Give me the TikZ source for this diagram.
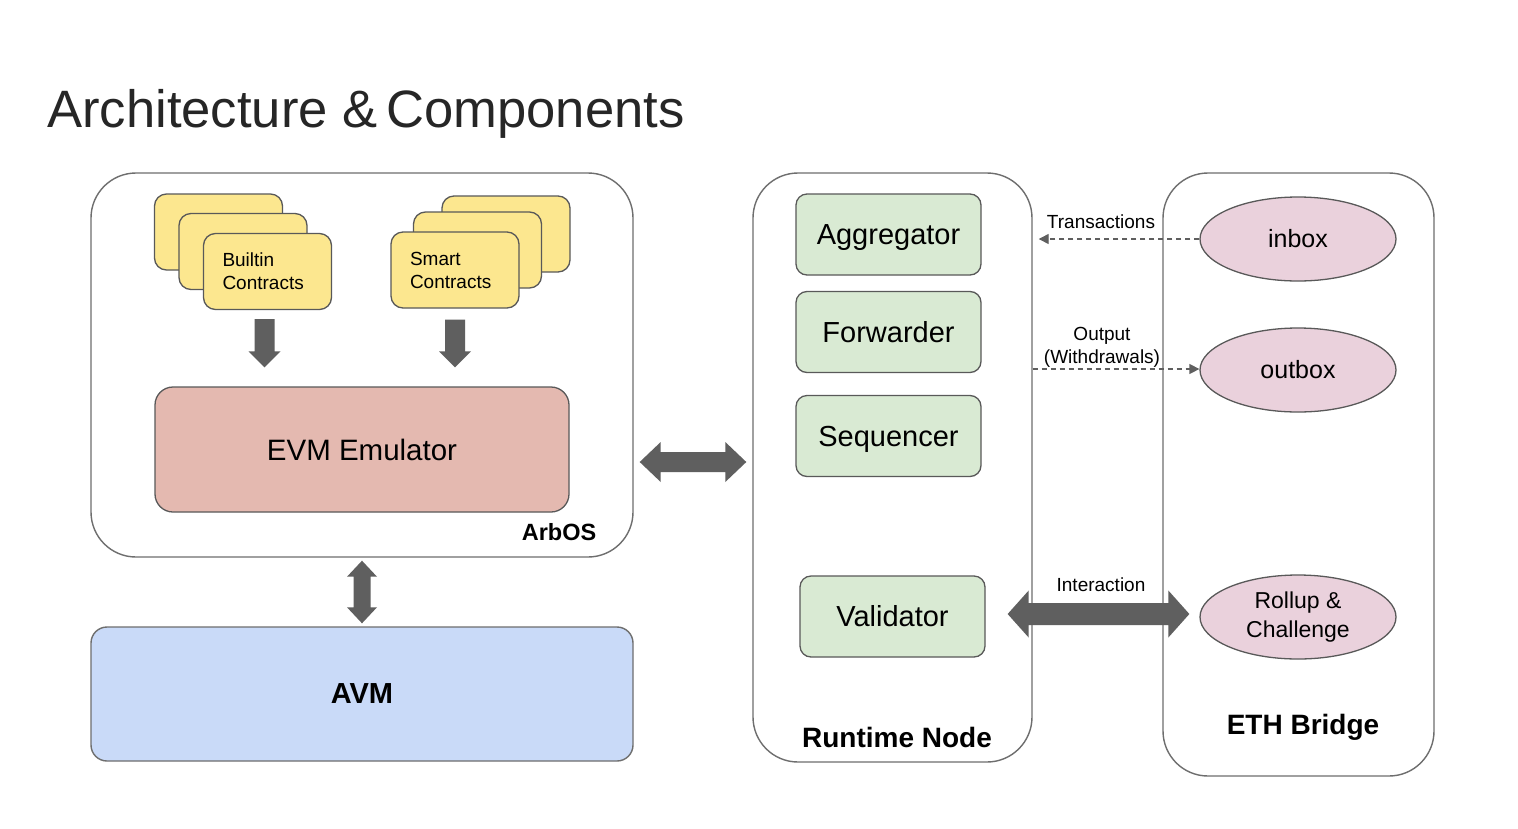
\documentclass[tikz,border=0pt]{standalone}
\usepackage{fontspec}
\setmainfont{Liberation Sans}
\usetikzlibrary{arrows.meta,shapes.geometric,calc}
\definecolor{yel}{HTML}{FCE78F}
\definecolor{evmc}{HTML}{E4B9B0}
\definecolor{avmc}{HTML}{C9DAF8}
\definecolor{grn}{HTML}{D9EAD3}
\definecolor{pnk}{HTML}{EAD1DC}
\definecolor{agray}{HTML}{5F5F5F}
\definecolor{bord}{HTML}{595959}
\definecolor{cbord}{HTML}{6E6E6E}
\newcommand\hdbl[5]{\fill[agray] (#1) -- ++(#3,-#4) -- ++(0,{#4-#5}) -- ($(#2)+(-#3,-#5)$) -- ++(0,{#5-#4}) -- (#2) -- ++(-#3,#4) -- ++(0,{#5-#4}) -- ($(#1)+(#3,#5)$) -- ++(0,{#4-#5}) -- cycle;}
\newcommand\vdbl[5]{\fill[agray] (#1) -- ++(-#4,#3) -- ++({#4-#5},0) -- ($(#2)+(-#5,-#3)$) -- ++({#5-#4},0) -- (#2) -- ++(#4,-#3) -- ++({#5-#4},0) -- ($(#1)+(#5,#3)$) -- ++({#4-#5},0) -- cycle;}
\newcommand\dnarr[5]{\fill[agray] ($(#1)+(-#5,0)$) -- ($(#2)+(-#5,-#3)$) -- ++({#5-#4},0) -- (#2) -- ++(#4,-#3) -- ++({#5-#4},0) -- ($(#1)+(#5,0)$) -- cycle;}
\tikzset{
  container/.style={draw=cbord, line width=1.4pt, fill=white, rounded corners=45pt, inner sep=0pt},
  ybox/.style={draw=bord, line width=1.3pt, fill=yel, rounded corners=12pt, minimum width=128pt, minimum height=76pt, text width=90pt, align=left, inner xsep=19pt, inner ysep=0pt, font=\fontsize{19}{23}\selectfont},
  gbox/.style={draw=bord, line width=1.3pt, fill=grn, rounded corners=11pt, minimum width=185pt, minimum height=81pt, inner sep=0pt, text height=20.5pt, text depth=0pt, font=\fontsize{29}{34}\selectfont},
  ell/.style={ellipse, draw=bord, line width=1.3pt, fill=pnk, minimum width=196pt, minimum height=84pt, inner sep=0pt, align=center},
  lbl/.style={font=\fontsize{19}{23}\selectfont, align=center, inner sep=0pt},
  bold/.style={font=\fontsize{28}{34}\selectfont\bfseries, inner sep=0pt}
}
\begin{document}
\begin{tikzpicture}[x=1pt,y=-1pt]
\useasboundingbox (0,0) rectangle (1518,828);
\fill[white] (0,0) rectangle (1518,828);
% title
\node[anchor=base west, inner sep=0pt, font=\fontsize{52.6}{60}\selectfont, text=black!85] (title) at (47,127) {Architecture \&\,Components};
% containers
\node[container, minimum width=542pt, minimum height=384pt] (arbos) at (362,365) {};
\node[container, minimum width=279pt, minimum height=589pt] (runtime) at (892.5,467.5) {};
\node[container, minimum width=271pt, minimum height=603pt] (eth) at (1298.5,474.5) {};
\node[draw=cbord, line width=1.4pt, fill=avmc, rounded corners=16pt, minimum width=542pt, minimum height=134pt, inner sep=0pt, font=\fontsize{29}{34}\selectfont\bfseries] (avm) at (362,694) {AVM};
% container labels
\node[bold, font=\fontsize{23.5}{28}\selectfont\bfseries] (arboslbl) at (559,532) {ArbOS};
\node[bold] (rtlbl) at (897,737) {Runtime Node};
\node[bold, anchor=base] (ethlbl) at (1303,734) {ETH Bridge};
% builtin contracts stack
\node[ybox] (bback) at (218.5,232) {};
\node[ybox] (bmid) at (243,251.5) {};
\node[ybox] (bfront) at (267.5,271.5) {Builtin\\Contracts};
% smart contracts stack
\node[ybox] (sback) at (506,234) {};
\node[ybox] (smid) at (477.5,250) {};
\node[ybox] (sfront) at (455,270) {Smart\\Contracts};
% EVM
\node[draw=bord, line width=1.3pt, fill=evmc, rounded corners=18pt, minimum width=414pt, minimum height=125pt, inner sep=0pt, font=\fontsize{29.5}{34}\selectfont] (evm) at (362,449.5) {EVM Emulator};
% runtime components
\node[gbox] (agg) at (888.5,234.5) {Aggregator};
\node[gbox] (fwd) at (888.5,332) {Forwarder};
\node[gbox] (seq) at (888.5,436) {Sequencer};
\node[gbox] (val) at (892.5,616.5) {Validator};
% eth bridge components
\node[ell, font=\fontsize{25}{30}\selectfont] (inbox) at (1298,239) {inbox};
\node[ell, font=\fontsize{25}{30}\selectfont] (outbox) at (1298,370) {outbox};
\node[ell, font=\fontsize{23}{29}\selectfont] (rollup) at (1298,617) {Rollup \&\\Challenge};
% block arrows
\coordinate (dA1) at ($(bfront.south)+(-3,9)$);
\coordinate (dA2) at ($(evm.north)+(-97.5,-19)$);
\dnarr{dA1}{dA2}{16}{16}{10}
\coordinate (dB1) at ($(sfront.south)+(0,11)$);
\coordinate (dB2) at ($(evm.north)+(93,-19)$);
\dnarr{dB1}{dB2}{16}{16}{10}
\coordinate (h1) at ($(arbos.east)+(6,97)$);
\coordinate (h2) at ($(runtime.west |- h1)+(-6,0)$);
\hdbl{h1}{h2}{21}{20}{10}
\coordinate (v1) at ($(arbos.south)+(0,3)$);
\coordinate (v2) at ($(avm.north)+(0,-3)$);
\vdbl{v1}{v2}{16}{15}{8.5}
\coordinate (i1) at ($(val.east)+(22,-2.5)$);
\coordinate (i2) at ($(rollup.west |- i1)+(-10,0)$);
\hdbl{i1}{i2}{21}{23.5}{11}
% dashed connectors
\coordinate (tx) at ($(runtime.east |- inbox.west)+(6,0)$);
\draw[draw=agray, line width=1.4pt, dash pattern=on 5pt off 4pt, -{Triangle[width=10pt,length=10pt]}] (inbox.west) -- (tx);
\coordinate (ox) at ($(runtime.east |- outbox.west)+(0,-1)$);
\draw[draw=agray, line width=1.4pt, dash pattern=on 5pt off 4pt, -{Triangle[width=10pt,length=10pt]}] (ox) -- ($(outbox.west)+(0,-1)$);
% connector labels
\node[lbl] (txl) at (1101,221.5) {Transactions};
\node[lbl] (oxl) at (1102,347) {Output\\(Withdrawals)};
\node[lbl] (inl) at (1101,585) {Interaction};
\end{tikzpicture}
\end{document}
